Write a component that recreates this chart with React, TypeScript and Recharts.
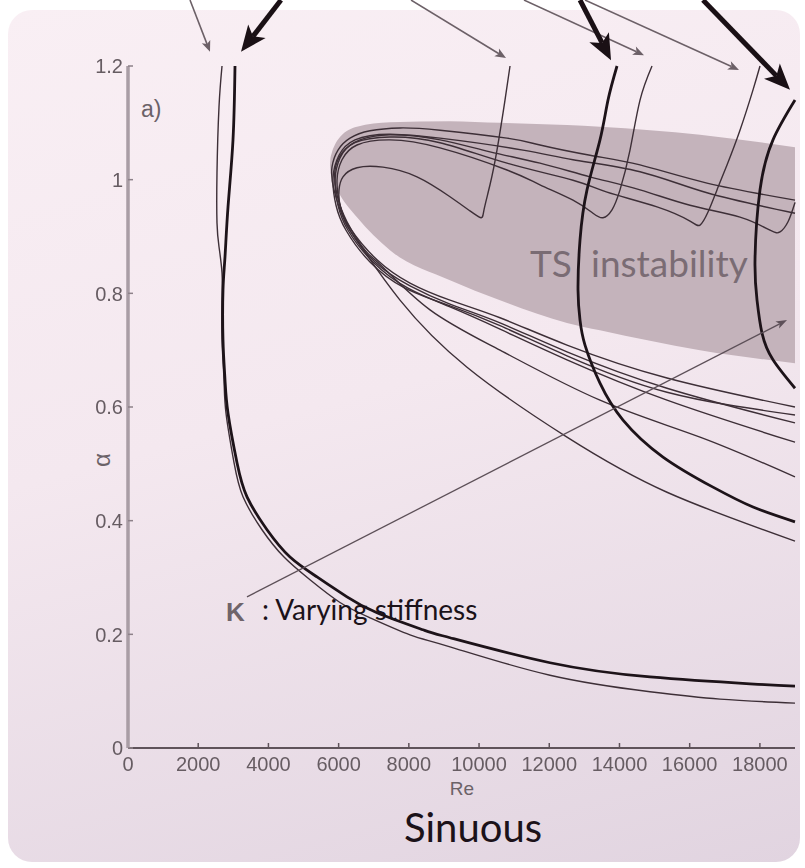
import React from 'react'
import { ComposedChart, Line, Area, XAxis, YAxis, ReferenceLine } from 'recharts'

type Pt = [number, number]
type Seg = [number, number, number, number]

const W = 805
const H = 868

const reTicks = [0, 2000, 4000, 6000, 8000, 10000, 12000, 14000, 16000, 18000]
const alphaTicks = [0, 0.2, 0.4, 0.6, 0.8, 1, 1.2]

// shaded TS instability region: Re, lower alpha, upper alpha
const tsRe = [5754, 5764, 5804, 5884, 6039, 6523, 7463, 9172, 10597, 12505, 13445, 16294, 19000]
const tsLow = [1.026, 1.017, 1.004, 0.991, 0.973, 0.934, 0.876, 0.823, 0.788, 0.748, 0.735, 0.7, 0.677]
const tsHigh = [1.026, 1.035, 1.047, 1.06, 1.075, 1.093, 1.101, 1.103, 1.1, 1.096, 1.093, 1.079, 1.057]

// thick neutral curves
const curveA: Pt[] = [[3048, 1.2], [2991, 1.07], [2849, 0.952], [2763, 0.864], [2706, 0.806], [2706, 0.718], [2763, 0.648], [2849, 0.589], [3105, 0.502], [3390, 0.442], [3960, 0.384], [4615, 0.336], [5384, 0.301], [6238, 0.266], [7093, 0.238], [8403, 0.208], [9172, 0.194], [12021, 0.15], [14870, 0.125], [17718, 0.113], [19000, 0.109]]
const curveC: Pt[] = [[13930, 1.2], [13673, 1.14], [13445, 1.07], [13075, 0.982], [12876, 0.894], [12819, 0.806], [12876, 0.753], [13018, 0.709], [13445, 0.642], [14101, 0.577], [15240, 0.512], [16664, 0.459], [17804, 0.424], [19000, 0.398]]
const curveD: Pt[] = [[19000, 1.14], [18373, 1.07], [18003, 0.982], [17861, 0.859], [17918, 0.788], [18060, 0.73], [18373, 0.683], [19000, 0.633]]

// thin neutral curves
const curveB: Pt[] = [[2678, 1.2], [2592, 1.128], [2535, 1.012], [2535, 0.924], [2592, 0.882], [2678, 0.836], [2678, 0.788], [2678, 0.718], [2735, 0.648], [2792, 0.589], [3020, 0.502], [3276, 0.442], [3817, 0.384], [4444, 0.336], [5184, 0.296], [6039, 0.256], [6894, 0.229], [8033, 0.199], [9172, 0.178], [12021, 0.128], [14870, 0.099], [16864, 0.086], [19000, 0.079]]
const lobe1: Pt[] = [[19000, 0.964], [16493, 0.994], [14585, 1.026], [13161, 1.043], [11736, 1.061], [10796, 1.073], [8888, 1.087], [7748, 1.091], [6894, 1.086], [6324, 1.073], [5982, 1.052], [5811, 1.022], [5868, 0.982], [6181, 0.926], [6609, 0.885], [7748, 0.788], [9657, 0.67], [12505, 0.547], [15354, 0.45], [19000, 0.364]]
const lobe2: Pt[] = [[19000, 0.941], [16493, 0.977], [14585, 1.014], [12676, 1.035], [11252, 1.052], [8888, 1.073], [7463, 1.079], [6609, 1.07], [6124, 1.049], [5897, 1.017], [5954, 0.973], [6238, 0.926], [6751, 0.876], [7264, 0.846], [8603, 0.771], [10597, 0.7], [13445, 0.612], [16294, 0.547], [19000, 0.477]]
const hook1: Pt[] = [[10882, 1.2], [10739, 1.14], [10511, 1.052], [10312, 0.991], [10141, 0.947], [10055, 0.933], [9742, 0.945], [9172, 0.97], [8232, 1.005], [7264, 1.022], [6523, 1.021], [6124, 1.005], [6011, 0.982], [6039, 0.955], [6324, 0.915], [7093, 0.859], [8033, 0.818], [9172, 0.788], [10597, 0.757], [12505, 0.709], [15354, 0.651], [19000, 0.6]]
const hook2: Pt[] = [[14927, 1.2], [14585, 1.14], [14300, 1.052], [14015, 0.982], [13787, 0.947], [13531, 0.933], [13246, 0.941], [12676, 0.964], [11736, 0.991], [10796, 1.017], [8888, 1.056], [7463, 1.07], [6523, 1.061], [6096, 1.035], [5954, 0.999], [6039, 0.955], [6324, 0.911], [7036, 0.855], [8033, 0.813], [9172, 0.781], [10597, 0.748], [12505, 0.697], [15354, 0.633], [19000, 0.572]]
const hook3: Pt[] = [[18003, 1.2], [17804, 1.158], [17433, 1.087], [17063, 1.026], [16778, 0.982], [16522, 0.943], [16294, 0.92], [16009, 0.927], [15069, 0.952], [13645, 0.978], [12676, 0.999], [10796, 1.029], [8888, 1.065], [7463, 1.075], [6466, 1.065], [6039, 1.038], [5897, 0.999], [5982, 0.955], [6267, 0.911], [6979, 0.855], [7976, 0.809], [9172, 0.776], [10597, 0.737], [12505, 0.683], [15354, 0.612], [19000, 0.538]]
const hook4: Pt[] = [[19000, 0.96], [18801, 0.926], [18573, 0.908], [18288, 0.911], [17433, 0.934], [16009, 0.955], [14585, 0.982], [13161, 1.005], [11736, 1.029], [10312, 1.049], [8888, 1.07], [7463, 1.08], [6466, 1.07], [6011, 1.043], [5840, 1.003], [5925, 0.955], [6210, 0.911], [6894, 0.855], [7891, 0.809], [9172, 0.778], [10597, 0.743], [12505, 0.69], [15354, 0.626], [19000, 0.586]]

// annotation arrows: Re start, alpha start, Re tip, alpha tip
const thinArrows: Seg[] = [[1766, 1.316, 2336, 1.225], [8062, 1.316, 10768, 1.214], [11280, 1.316, 14699, 1.219], [13018, 1.316, 17405, 1.193]]
const thickArrows: Seg[] = [[4358, 1.316, 3219, 1.225], [12876, 1.316, 13759, 1.21], [16379, 1.316, 18858, 1.158]]
const stiffnessArrow: Seg = [3390, 0.266, 18773, 0.753]

const thickCurves = [curveA, curveC, curveD]
const thinCurves = [curveB, lobe1, lobe2, hook1, hook2, hook3, hook4]

const rows = (pts: Pt[]) => pts.map(([re, a]) => ({ re, a }))
const tsRows = tsRe.map((re, i) => ({ re, band: [tsLow[i], tsHigh[i]] }))

function arrowShape(color: string, width: number, head: number, half: number) {
  return (p: any) => {
    const { x1, y1, x2, y2 } = p
    const ang = Math.atan2(y2 - y1, x2 - x1)
    const c = Math.cos(ang)
    const s = Math.sin(ang)
    const bx = x2 - head * c
    const by = y2 - head * s
    const nx = x2 - head * 0.75 * c
    const ny = y2 - head * 0.75 * s
    return (
      <g>
        <line x1={x1} y1={y1} x2={nx} y2={ny} stroke={color} strokeWidth={width} />
        <polygon
          points={`${x2},${y2} ${bx - half * s},${by + half * c} ${nx},${ny} ${bx + half * s},${by - half * c}`}
          fill={color}
        />
      </g>
    )
  }
}

const axisFont = 'Arial, "Liberation Sans", sans-serif'
const tickColor = '#665c62'
const lightAxis = { stroke: '#a99da5', strokeWidth: 3.5 }
const darkAxis = { stroke: '#5f535a', strokeWidth: 2 }
const sans = 'Lato, "Open Sans", sans-serif'

const ReTick = (p: any) => (
  <text x={p.x} y={p.y} dy="0.71em" textAnchor="middle" fontFamily={axisFont} fontSize={20} fill={tickColor}>
    {p.payload.value}
  </text>
)
const AlphaTick = (p: any) => (
  <text x={p.x} y={p.y} dy="0.36em" textAnchor="end" fontFamily={axisFont} fontSize={20} fill={tickColor}>
    {p.payload.value}
  </text>
)

export default function App() {
  return (
    <div style={{ position: 'absolute', left: 0, top: 0, width: W, height: H, background: '#fff', overflow: 'hidden' }}>
      <div style={{
        position: 'absolute', left: 8, top: 10, width: 792, height: 852, borderRadius: 24,
        background: 'linear-gradient(165deg, #f9eff4 0%, #f4e8ef 45%, #e1d4e0 100%)',
      }} />
      <div style={{ position: 'absolute', left: 0, top: 0, filter: 'blur(0.4px)' }}>
        <ComposedChart width={W} height={H} margin={{ top: 66, right: 10, bottom: 68, left: 68 }}>
          <XAxis
            dataKey="re" type="number" domain={[0, 19000]} ticks={reTicks} interval={0}
            height={52} tickSize={-5} tickMargin={14} tick={<ReTick />}
            axisLine={darkAxis} tickLine={{ stroke: '#5f535a', strokeWidth: 1.5 }}
          />
          <XAxis
            xAxisId="top" orientation="top" type="number" domain={[0, 19000]} ticks={reTicks} interval={0}
            height={0} tickSize={-4} tickFormatter={() => ''}
            axisLine={lightAxis} tickLine={{ stroke: '#3d3037', strokeWidth: 3 }}
          />
          <YAxis
            type="number" domain={[0, 1.2]} ticks={alphaTicks} interval={0}
            width={60} tickSize={-5} tickMargin={10} tick={<AlphaTick />}
            axisLine={lightAxis} tickLine={{ stroke: '#8d8189', strokeWidth: 1.5 }}
          />
          <YAxis
            yAxisId="right" orientation="right" type="number" domain={[0, 1.2]} ticks={alphaTicks} interval={0}
            width={0} tickSize={-4} tickFormatter={() => ''}
            axisLine={darkAxis} tickLine={{ stroke: '#5f535a', strokeWidth: 1.5 }}
          />

          <Area
            data={tsRows} dataKey="band" type="monotone" stroke="none"
            fill="#c4b3bb" fillOpacity={1} isAnimationActive={false} activeDot={false}
          />

          {thinCurves.map((pts, i) => (
            <Line
              key={`thin${i}`} data={rows(pts)} dataKey="a" type="natural"
              stroke="#3d2f37" strokeWidth={1.4} dot={false} activeDot={false} isAnimationActive={false}
            />
          ))}
          {thickCurves.map((pts, i) => (
            <Line
              key={`thick${i}`} data={rows(pts)} dataKey="a" type="natural"
              stroke="#1d1319" strokeWidth={2.8} dot={false} activeDot={false} isAnimationActive={false}
            />
          ))}

          <ReferenceLine
            segment={[{ x: stiffnessArrow[0], y: stiffnessArrow[1] }, { x: stiffnessArrow[2], y: stiffnessArrow[3] }]}
            ifOverflow="visible" shape={arrowShape('#5d5058', 1.3, 11, 4)}
          />
          {thinArrows.map((s, i) => (
            <ReferenceLine
              key={`ta${i}`} segment={[{ x: s[0], y: s[1] }, { x: s[2], y: s[3] }]}
              ifOverflow="visible" shape={arrowShape('#6c6067', 1.6, 11, 4.5)}
            />
          ))}
          {thickArrows.map((s, i) => (
            <ReferenceLine
              key={`ka${i}`} segment={[{ x: s[0], y: s[1] }, { x: s[2], y: s[3] }]}
              ifOverflow="visible" shape={arrowShape('#1a1015', 5, 26, 11)}
            />
          ))}
        </ComposedChart>
      </div>

      <svg width={W} height={H} style={{ position: 'absolute', left: 0, top: 0, pointerEvents: 'none' }}>
        <text x={141} y={117} fontFamily={axisFont} fontSize={23} fill="#6b6268">a)</text>
        <text transform="translate(110,460) rotate(-90)" textAnchor="middle" fontFamily={axisFont} fontSize={24} fill="#6b6268">α</text>
        <text x={462} y={795} textAnchor="middle" fontFamily={axisFont} fontSize={19} fill="#6b6268">Re</text>
        <text x={530} y={277} fontFamily={sans} fontSize={37} fill="#7a6c74">TS</text>
        <text x={591} y={277} fontFamily={sans} fontSize={37} fill="#7a6c74">instability</text>
        <text x={226} y={621} fontFamily={axisFont} fontWeight="bold" fontSize={26} fill="#6f646a">K</text>
        <text x={262} y={620} fontFamily={sans} fontSize={28} fill="#1b1219">: Varying stiffness</text>
        <text x={473} y={842} textAnchor="middle" fontFamily={sans} fontSize={40} fill="#1b1219">Sinuous</text>
      </svg>
    </div>
  )
}
